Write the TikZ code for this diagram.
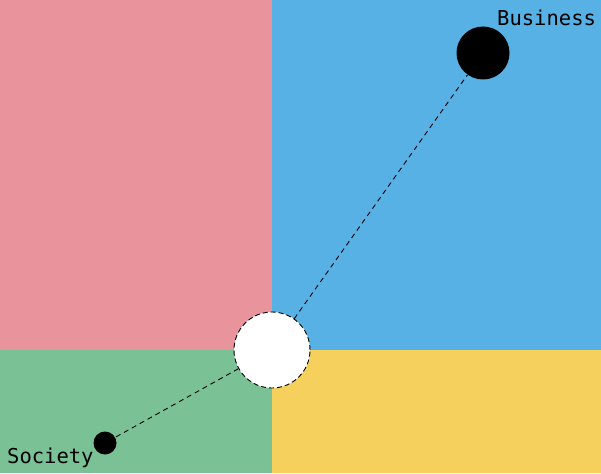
\documentclass[tikz,border=0pt]{standalone}
\usepackage{fontspec}
\newfontfamily\labelfont{DejaVu Sans Mono}
\definecolor{qpink}{HTML}{E9949C}
\definecolor{qblue}{HTML}{58B1E4}
\definecolor{qgreen}{HTML}{7BC196}
\definecolor{qyellow}{HTML}{F5D05C}
\begin{document}
\begin{tikzpicture}[x=1pt,y=-1pt,
  dot/.style={circle,fill=black,inner sep=0pt},
  conn/.style={draw=black,dash pattern=on 5pt off 4pt,line width=0.9pt},
  lbl/.style={font=\labelfont\fontsize{20.5}{22}\selectfont,inner sep=0pt,anchor=base west}]
\useasboundingbox (0,0) rectangle (601,473);
\fill[qpink] (0,0) rectangle (272,350);
\fill[qblue] (272,0) rectangle (601,350);
\fill[qgreen] (0,350) rectangle (272,473);
\fill[qyellow] (272,350) rectangle (601,473);
\node[circle,fill=white,draw=black,dash pattern=on 5pt off 3pt,line width=0.9pt,minimum size=76pt,inner sep=0pt] (hub) at (272,350) {};
\node[dot,minimum size=53pt] (biz) at (483,53) {};
\node[dot,minimum size=23pt] (soc) at (105,443) {};
\draw[conn] (hub) -- (biz);
\draw[conn] (hub) -- (soc);
\node[lbl] (bizl) at (497,26) {Business};
\node[lbl] (socl) at (7,463) {Society};
\end{tikzpicture}
\end{document}
